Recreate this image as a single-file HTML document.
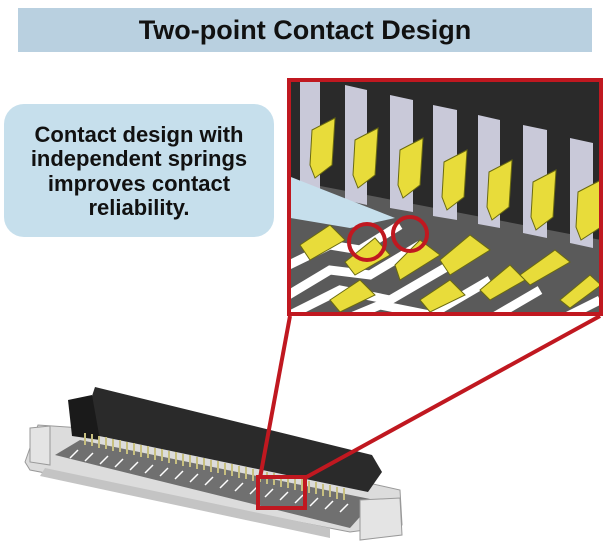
<!DOCTYPE html>
<html><head><style>
html,body{margin:0;padding:0;background:#fff;}
svg{display:block;}
text{font-family:"Liberation Sans",sans-serif;font-weight:bold;}
</style></head><body>
<svg width="608" height="560" viewBox="0 0 608 560" xmlns="http://www.w3.org/2000/svg">
<rect x="18" y="8" width="574" height="44" fill="#b9d0e0"/>
<text x="305" y="39" font-size="27" text-anchor="middle" fill="#111">Two-point Contact Design</text>

<defs><clipPath id="ic"><rect x="289" y="80" width="312" height="234"/></clipPath></defs>
<g clip-path="url(#ic)">
  <rect x="289" y="80" width="312" height="234" fill="#2a2a2a"/>
  <polygon points="289,180 601,240 601,314 289,314" fill="#5a5a5a"/>
  <g stroke="#fff" stroke-width="9" fill="none">
    <polyline points="280,300 330,270 370,275 420,245"/>
    <polyline points="280,320 340,290 390,300 450,265"/>
    <polyline points="320,330 380,305 430,315 490,280"/>
    <polyline points="380,330 430,320 480,325 540,290"/>
    <polyline points="440,335 500,325 540,330 600,300"/>
    <polyline points="289,265 330,245 360,250 400,225"/>
  </g>
  <g fill="#c9c9d9">
    <polygon points="300,80 320,80 320,195 300,192"/>
    <polygon points="345,85 367,90 367,205 345,200"/>
    <polygon points="390,95 413,100 413,212 390,208"/>
    <polygon points="433,105 457,110 457,220 433,216"/>
    <polygon points="478,115 500,120 500,228 478,224"/>
    <polygon points="523,125 547,130 547,238 523,233"/>
    <polygon points="570,138 593,143 593,248 570,243"/>
  </g>
  <g fill="#e8dc3a" stroke="#6a6a10" stroke-width="1">
    <polygon points="312,130 335,118 332,165 315,178 310,165"/>
    <polygon points="355,140 378,128 375,175 358,188 353,175"/>
    <polygon points="400,150 423,138 420,185 403,198 398,185"/>
    <polygon points="444,162 467,150 464,197 447,210 442,197"/>
    <polygon points="489,172 512,160 509,207 492,220 487,207"/>
    <polygon points="533,182 556,170 553,217 536,230 531,217"/>
    <polygon points="578,192 601,180 601,227 581,240 576,227"/>
    <polygon points="300,245 330,225 345,240 310,260"/>
    <polygon points="345,262 375,238 390,255 355,275"/>
    <polygon points="395,265 420,240 440,255 400,280"/>
    <polygon points="440,260 470,235 490,250 450,275"/>
    <polygon points="480,290 510,265 525,280 490,300"/>
    <polygon points="520,275 555,250 570,262 530,285"/>
    <polygon points="560,300 590,275 601,285 570,308"/>
    <polygon points="330,300 360,280 375,295 340,312"/>
    <polygon points="420,300 450,280 465,295 430,312"/>
  </g>
  <polygon points="273,170 395,218 350,228 273,215" fill="#c6dfec"/>
</g>
<rect x="289" y="80" width="312" height="234" fill="none" stroke="#c01820" stroke-width="4"/>
<circle cx="367" cy="242" r="18" fill="none" stroke="#c01820" stroke-width="4"/>
<circle cx="410" cy="234" r="17" fill="none" stroke="#c01820" stroke-width="4"/>

<rect x="4" y="104" width="270" height="133" rx="20" fill="#c6dfec"/>
<g font-size="22" text-anchor="middle" fill="#111">
<text x="139" y="142">Contact design with</text>
<text x="139" y="166">independent springs</text>
<text x="139" y="191">improves contact</text>
<text x="139" y="215">reliability.</text>
</g>

<!-- connector -->
<polygon points="25,462 38,425 140,432 400,490 402,525 350,532 30,470" fill="#dcdcdc" stroke="#999"/>
<polygon points="45,468 330,528 330,538 40,476" fill="#c4c4c4"/>
<polygon points="55,455 80,440 375,500 350,528" fill="#707070"/>
<g stroke="#fff" stroke-width="1.5">
<path d="M70,458l8,-8M85,461l8,-8M100,464l8,-8M115,467l8,-8M130,470l8,-8M145,473l8,-8M160,476l8,-8M175,479l8,-8M190,482l8,-8M205,485l8,-8M220,488l8,-8M235,491l8,-8M250,494l8,-8M265,497l8,-8M280,500l8,-8M295,503l8,-8M310,506l8,-8M325,509l8,-8M340,512l8,-8"/>
</g>
<polygon points="95,387 372,455 382,472 368,492 80,432" fill="#2a2a2a"/>
<polygon points="68,400 92,395 100,440 72,436" fill="#1a1a1a"/>
<g stroke="#c8c080" stroke-width="2">
<path d="M85,433l0,12M92,434l0,12M99,436l0,12M106,437l0,12M113,439l0,12M120,440l0,12M127,442l0,12M134,443l0,12M141,445l0,12M148,446l0,12M155,448l0,12M162,449l0,12M169,451l0,12M176,452l0,12M183,454l0,12M190,455l0,12M197,457l0,12M204,458l0,12M211,460l0,12M218,461l0,12M225,463l0,12M232,464l0,12M239,466l0,12M246,467l0,12M253,469l0,12M260,470l0,12M267,472l0,12M274,473l0,12M281,475l0,12M288,476l0,12M295,478l0,12M302,479l0,12M309,481l0,12M316,482l0,12M323,484l0,12M330,485l0,12M337,487l0,12M344,488l0,12"/>
</g>
<polygon points="360,500 400,498 402,535 360,540" fill="#e4e4e4" stroke="#999"/>
<polygon points="30,428 50,426 50,465 30,462" fill="#e4e4e4" stroke="#999"/>

<g stroke="#c01820" stroke-width="4" fill="none">
<line x1="290" y1="316" x2="260" y2="478"/>
<line x1="600" y1="316" x2="303" y2="479"/>
<rect x="258" y="477" width="47" height="31"/>
</g>
</svg>
</body></html>
